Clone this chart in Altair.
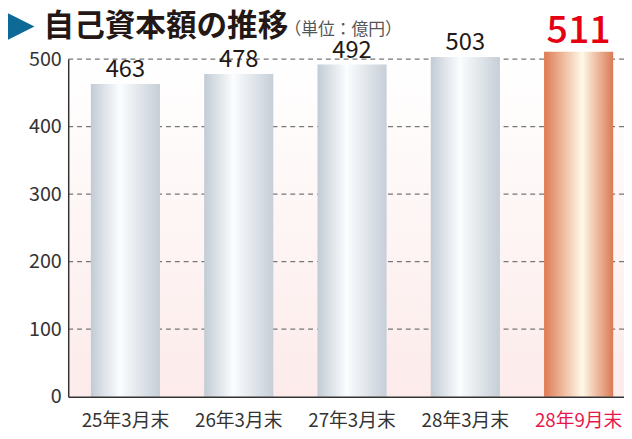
import altair as alt
import pandas as pd

categories = ["25年3月末", "26年3月末", "27年3月末", "28年3月末", "28年9月末"]
values = [463, 478, 492, 503, 511]
highlight = [False, False, False, False, True]
grid_values = [100, 200, 300, 400, 500]
y_ticks = [0, 100, 200, 300, 400, 500]
title_text = "自己資本額の推移"
unit_text = "（単位：億円）"

W, H = 563, 342
FONT = "Noto Sans CJK JP"

df = pd.DataFrame({"cat": categories, "val": values, "hl": highlight})
grid_df = pd.DataFrame({"val": grid_values})

x_enc = alt.X("cat:N", sort=categories, title=None,
              scale=alt.Scale(paddingInner=0.39, paddingOuter=0.2, range=[0, 575]),
              axis=alt.Axis(labelAngle=0, ticks=False, grid=False, labelFontSize=19,
                            labelFont=FONT, labelPadding=15, domainColor="#333",
                            domainWidth=1.5, zindex=1,
                            labelColor={"expr": "datum.value == '28年9月末' ? '#e8174a' : '#333333'"}))
y_scale = alt.Scale(domain=[0, 500], nice=False)
y_axis = alt.Axis(values=y_ticks, ticks=False, grid=False, labelFontSize=20,
                  labelFont=FONT, labelColor="#333", labelPadding=7,
                  domainColor="#333", domainWidth=1.5, zindex=1)
y_enc = alt.Y("val:Q", scale=y_scale, title=None, axis=y_axis)

bg = alt.Chart(pd.DataFrame({"a": [0]})).mark_rect(
    color=alt.Gradient(gradient="linear",
                       stops=[alt.GradientStop(offset=0, color="#ffffff"),
                              alt.GradientStop(offset=1, color="#fcebea")],
                       x1=0, x2=0, y1=0, y2=1)
).encode(x=alt.value(0), x2=alt.value(W), y=alt.value(0), y2=alt.value(H))

grid = alt.Chart(grid_df).mark_rule(color="#777", strokeDash=[5, 4], strokeWidth=1.2).encode(
    y=y_enc, x=alt.value(0), x2=alt.value(W))

grey = alt.Gradient(gradient="linear",
                    stops=[alt.GradientStop(offset=0, color="#c2cbd4"),
                           alt.GradientStop(offset=0.42, color="#fbfdfe"),
                           alt.GradientStop(offset=1, color="#c6ced7")],
                    x1=0, x2=1, y1=0, y2=0)
orange = alt.Gradient(gradient="linear",
                      stops=[alt.GradientStop(offset=0, color="#de7a52"),
                             alt.GradientStop(offset=0.55, color="#fff9e8"),
                             alt.GradientStop(offset=1, color="#da7a54")],
                      x1=0, x2=1, y1=0, y2=0)

base = alt.Chart(df)
bars_grey = base.transform_filter("!datum.hl").mark_bar(color=grey).encode(x=x_enc, y=y_enc)
bars_or = base.transform_filter("datum.hl").mark_bar(color=orange).encode(x=x_enc, y=y_enc)

lab = base.transform_filter("!datum.hl").mark_text(
    baseline="bottom", dy=-2, fontSize=24, font=FONT, color="#231815").encode(
    x=x_enc, y=y_enc, text="val:Q")
lab_hl = base.transform_filter("datum.hl").mark_text(
    baseline="bottom", dy=-1, fontSize=38, font=FONT, fontWeight=500, color="#e60012").encode(
    x=x_enc, y=y_enc, text="val:Q")

one = pd.DataFrame({"t": [title_text], "u": [unit_text]})
tri = alt.Chart(one).mark_point(
    shape="M -1 -1 L 1 0 L -1 1 Z", filled=True, color="#0d6a97", opacity=1, size=760
).encode(x=alt.value(-48), y=alt.value(-33))
ttl = alt.Chart(one).mark_text(
    align="left", baseline="middle", fontSize=31, fontWeight="bold", font=FONT, color="#231815"
).encode(x=alt.value(-25), y=alt.value(-32), text="t:N")
unit = alt.Chart(one).mark_text(
    align="left", baseline="middle", fontSize=17, font=FONT, color="#555"
).encode(x=alt.value(219), y=alt.value(-29), text="u:N")

chart = alt.layer(bg, grid, bars_grey, bars_or, lab, lab_hl, tri, ttl, unit).properties(
    width=W, height=H,
    autosize=alt.AutoSizeParams(type="none"),
    padding={"left": 61, "top": 49, "right": 0, "bottom": 36},
).resolve_scale(x="shared", y="shared").configure_view(stroke=None)

chart.save("out.html", embed_options={"renderer": "svg", "actions": False})
